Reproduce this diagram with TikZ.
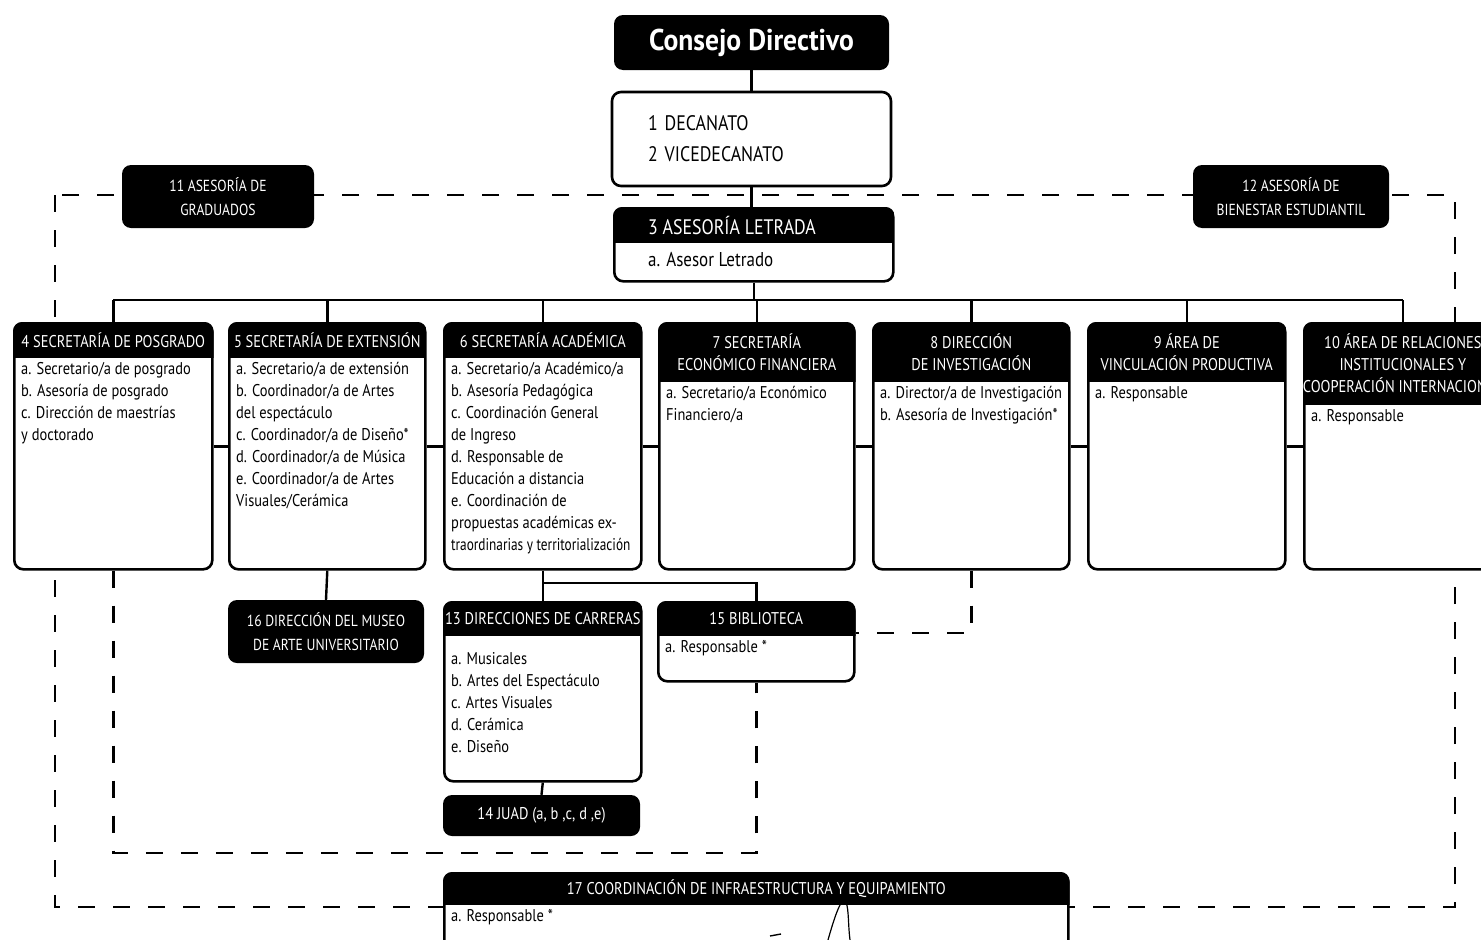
\documentclass[tikz,border=0pt]{standalone}
\usepackage{fontspec}
\usepackage{graphicx}
\setmainfont{PT Sans}
\newfontfamily\condfont[FakeStretch=0.85]{PT Sans}
\newfontfamily\titlefont[FakeStretch=0.92]{PT Sans}
\usepackage{tikz}

\tikzset{
  unitframe/.style={draw=black, line width=2.6pt, rounded corners=9pt, fill=white, inner sep=0pt},
  darkbox/.style={fill=black, text=white, rounded corners=9pt, align=center, inner sep=0pt,
    font=\condfont\fontsize{16}{24}\selectfont},
  headtext/.style={text=white, align=center, inner sep=0pt, font=\condfont\fontsize{17}{22}\selectfont},
  bodytext/.style={anchor=north west, align=left, inner sep=0pt, font=\condfont\fontsize{17}{22}\selectfont},
  link/.style={line width=2.4pt},
  dashlink/.style={line width=2.6pt, dash pattern=on 17pt off 18pt},
}

% name, x, y (top left), width, height, header height, header, items
\newcommand{\orgunit}[8]{%
  \node[unitframe, minimum width=#4pt, minimum height=#5pt, anchor=north west] (#1) at (#2,#3) {};
  \begin{scope}
    \clip[rounded corners=9pt] (#1.north west) rectangle (#1.south east);
    \fill (#1.north west) rectangle ([yshift=-#6pt]#1.north east);
  \end{scope}
  \node[headtext] (#1h) at ([yshift=-#6pt/2]#1.north) {#7};
  \node[bodytext] (#1b) at ([xshift=8pt, yshift=-#6pt-4pt]#1.north west) {#8};
}

\begin{document}
\begin{tikzpicture}[x=1pt, y=-1pt]
  \useasboundingbox (0,0) rectangle (1481,940);
  \clip (0,0) rectangle (1481,940);

  \coordinate (outnw) at (55,195);
  \coordinate (outse) at (1455,907);
  \coordinate (bus) at (0,300);
  \coordinate (fork) at (0,583);
  \coordinate (innerfoot) at (0,853);
  \draw[dashlink] (outnw) rectangle (outse);

  \node[darkbox, minimum width=275pt, minimum height=55pt,
    font=\titlefont\bfseries\fontsize{30}{32}\selectfont] (consejo) at (751.5,42.5) {Consejo Directivo};
  \node[unitframe, minimum width=279pt, minimum height=94pt, text width=207pt, align=left,
    font=\condfont\fontsize{21}{31}\selectfont] (decanato) at (751.5,139) {1 DECANATO\\2 VICEDECANATO};

  % asesoria letrada
  \node[unitframe, minimum width=279pt, minimum height=73pt, anchor=north west] (letrada) at (613,207) {};
  \begin{scope}
    \clip[rounded corners=9pt] (letrada.north west) rectangle (letrada.south east);
    \fill (letrada.north west) rectangle ([yshift=-36pt]letrada.north east);
  \end{scope}
  \node[headtext, anchor=west, font=\condfont\fontsize{21}{22}\selectfont] (letradah) at (648,225) {3 ASESORÍA LETRADA};
  \node[bodytext, anchor=west, font=\condfont\fontsize{20}{22}\selectfont] (letradab) at (648,260) {a. Asesor Letrado};

  \node[darkbox, minimum width=192pt, minimum height=63pt] (grad) at (218,196.5) {11 ASESORÍA DE\\GRADUADOS};
  \node[darkbox, minimum width=196pt, minimum height=63pt] (bien) at (1291,196.5) {12 ASESORÍA DE\\BIENESTAR ESTUDIANTIL};

  \orgunit{b4}{13}{322}{198}{246}{36}{4 SECRETARÍA DE POSGRADO}
    {a. Secretario/a de posgrado\\b. Asesoría de posgrado\\c. Dirección de maestrías\\y doctorado}
  \orgunit{b5}{228}{322}{196}{246}{36}{5 SECRETARÍA DE EXTENSIÓN}
    {a. Secretario/a de extensión\\b. Coordinador/a de Artes\\del espectáculo\\c. Coordinador/a de Diseño*\\d. Coordinador/a de Música\\e. Coordinador/a de Artes\\Visuales/Cerámica}
  \orgunit{b6}{443}{322}{197}{246}{36}{6 SECRETARÍA ACADÉMICA}
    {a. Secretario/a Académico/a\\b. Asesoría Pedagógica\\c. Coordinación General\\de Ingreso\\d. Responsable de\\Educación a distancia\\e. Coordinación de\\propuestas académicas ex-\\\scalebox{0.92}[1]{traordinarias y territorialización}}
  \orgunit{b7}{658}{322}{195}{246}{60}{7 SECRETARÍA\\ECONÓMICO FINANCIERA}
    {a. Secretario/a Económico\\Financiero/a}
  \orgunit{b8}{872}{322}{196}{246}{60}{8 DIRECCIÓN\\DE INVESTIGACIÓN}
    {a. Director/a de Investigación\\b. Asesoría de Investigación*}
  \orgunit{b9}{1087}{322}{197}{246}{60}{9 ÁREA DE\\VINCULACIÓN PRODUCTIVA}
    {a. Responsable}
  \orgunit{b10}{1303}{322}{197}{246}{83}{10 ÁREA DE RELACIONES\\INSTITUCIONALES Y\\COOPERACIÓN INTERNACIONAL}
    {a. Responsable}

  \orgunit{b13}{443}{601}{197}{179}{35}{13 DIRECCIONES DE CARRERAS}
    {\rule{0pt}{24pt}a. Musicales\\b. Artes del Espectáculo\\c. Artes Visuales\\d. Cerámica\\e. Diseño}
  \orgunit{b15}{657}{601}{196}{79}{35}{15 BIBLIOTECA}
    {a. Responsable *}
  \orgunit{b17}{443}{872}{624}{100}{33}{17 COORDINACIÓN DE INFRAESTRUCTURA Y EQUIPAMIENTO}
    {a. Responsable *}

  \node[darkbox, minimum width=196pt, minimum height=63pt] (museo) at (326,631.5) {16 DIRECCIÓN DEL MUSEO\\DE ARTE UNIVERSITARIO};
  \node[darkbox, minimum width=197pt, minimum height=41pt, font=\condfont\fontsize{17}{22}\selectfont] (juad) at (541.5,815.5) {14 JUAD (a, b ,c, d ,e)};

  \draw[link] (consejo.south) -- (consejo.south |- decanato.north);
  \draw[link] (decanato.south) -- (decanato.south |- letrada.north);
  \draw[link] (letrada.south) -- (letrada.south |- bus);
  \draw[link] (b4.north |- bus) -- (b10.north |- bus);
  \foreach \n in {b4,b5,b6,b7,b8,b9,b10}
    \draw[link] (\n.north) -- (\n.north |- bus);
  \foreach \a/\b in {b4/b5,b5/b6,b6/b7,b7/b8,b8/b9,b9/b10}
    \draw[link] (\a.east) -- (\b.west);
  \draw[link] (b5.south) -- (museo.north);
  \draw[link] (b6.south) -- (b13.north);
  \draw[link] (fork -| b6.south) -| (b15.north);
  \draw[link] (b13.south) -- (juad.north);
  \draw[dashlink] (b4.south) |- (innerfoot -| b15.south) -- (b15.south);
  \draw[dashlink] (b8.south) |- ([yshift=9pt]b15.east);

  \draw[line width=1.2pt] (828,940) .. controls (835,915) and (842,895) .. (846,902)
    .. controls (849,910) and (848,925) .. (850,940);
  \draw[line width=1.4pt] (770,936) -- (781,934);
\end{tikzpicture}
\end{document}
